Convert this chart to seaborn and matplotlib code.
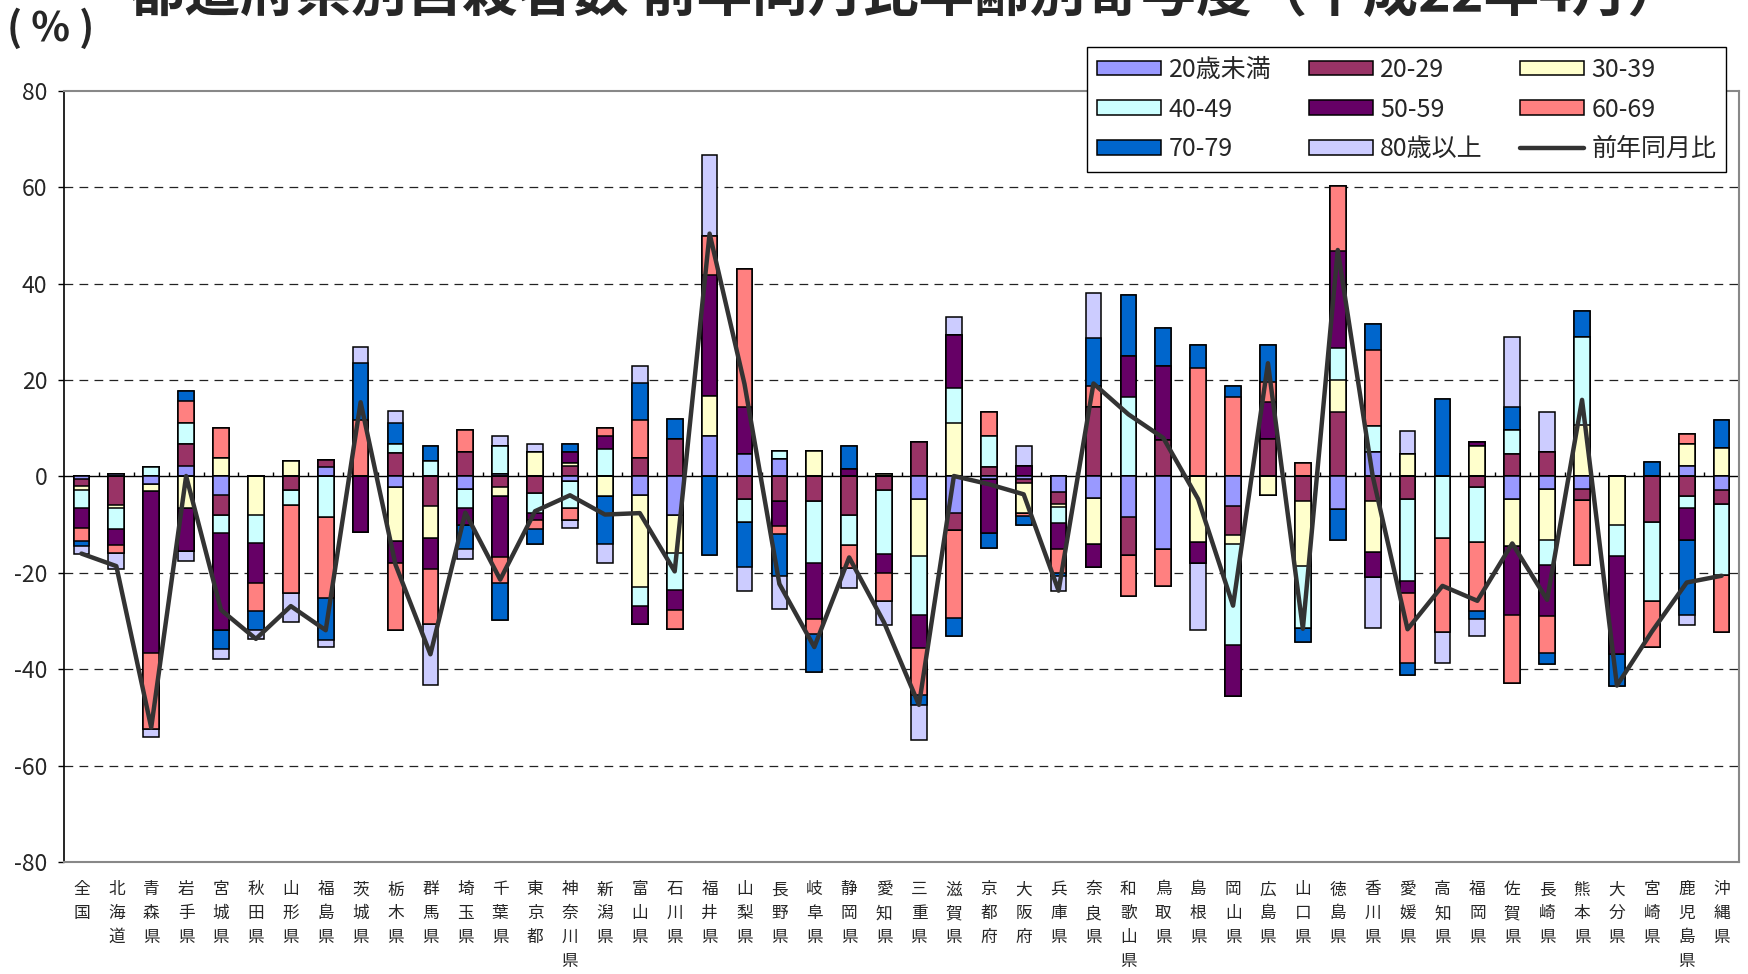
import numpy as np
import pandas as pd
import matplotlib
matplotlib.use("Agg")
import matplotlib.pyplot as plt
from matplotlib.patches import Patch
from matplotlib.lines import Line2D
import seaborn as sns

# ---------------- data ----------------
categories = ["全国", "北海道", "青森県", "岩手県", "宮城県", "秋田県", "山形県", "福島県",
              "茨城県", "栃木県", "群馬県", "埼玉県", "千葉県", "東京都", "神奈川県", "新潟県",
              "富山県", "石川県", "福井県", "山梨県", "長野県", "岐阜県", "静岡県", "愛知県",
              "三重県", "滋賀県", "京都府", "大阪府", "兵庫県", "奈良県", "和歌山県", "鳥取県",
              "島根県", "岡山県", "広島県", "山口県", "徳島県", "香川県", "愛媛県", "高知県",
              "福岡県", "佐賀県", "長崎県", "熊本県", "大分県", "宮崎県", "鹿児島県", "沖縄県"]

series_names = ["20歳未満", "20-29", "30-39", "40-49", "50-59", "60-69", "70-79", "80歳以上"]
line_name = "前年同月比"

u20 = [-0.6, 0.6, -1.5, 2.2, -3.8, 0, 0, 1.9, 0, -2.2, 0, -2.5, 0.6, 0, -1.0, 0,
       -3.8, -7.9, 8.4, 4.7, 3.6, 0, 0, 0, -4.7, -7.5, -0.6, -0.5, -3.2, -4.4, -8.4, -15.0,
       0, -6.2, 0, 0, -6.8, 5.1, 0, 0, 0, -4.7, -2.5, -2.5, 0, 0, 2.1, -2.9]
a20 = [-1.4, -5.9, 0, 4.6, -4.1, 0, -2.9, 1.6, 0, 4.9, -6.2, 5.1, -2.2, -3.4, 2.1, 0,
       3.8, 7.8, 0, -4.7, -5.0, -5.0, -7.9, -2.9, 7.2, -3.7, 1.9, -0.9, -2.5, 14.4, -7.9, 7.5,
       0, -6.0, 7.7, -5.0, 13.3, -5.0, -4.7, 0, -2.2, 4.7, 5.1, -2.4, 0, -9.5, -4.1, -2.9]
a30 = [-0.8, -0.6, -1.5, -6.6, 3.8, -7.9, 3.2, 0, 0, -11.2, -6.6, 0, -1.9, 5.1, 0.6, -4.1,
       -19.2, -8.0, 8.2, 0, 0, 5.2, 0, 0.6, -11.9, 11.2, 0, -6.1, -0.6, -9.7, 0, 0,
       -13.7, -1.9, -3.8, -13.5, 6.8, -10.6, 4.7, 0, 6.4, -9.7, -10.6, 10.6, -10.0, 0, 4.7, 5.9]
a40 = [-3.7, -4.4, 2.0, 4.4, -3.9, -6.0, -3.1, -8.4, 0, 1.9, 3.2, -4.0, 5.7, -4.2, -5.5, 5.6,
       -3.9, -7.7, 0, -4.8, 1.6, -13.0, -6.4, -13.1, -12.2, 7.2, 6.5, 0, -3.4, 0, 16.5, 0,
       0, -20.9, 0, -13.0, 6.6, 5.3, -17.0, -12.8, -11.4, 4.9, -5.3, 18.4, -6.6, -16.3, -2.4, -14.6]
a50 = [-4.1, -3.4, -33.6, -8.9, -20.0, -8.2, 0, 0, -11.5, -4.6, -6.5, -3.6, -12.7, -1.5, 2.4, 2.8,
       -3.7, -4.2, 25.3, 9.7, -5.3, -11.5, 1.5, -4.0, -6.7, 11.0, -11.1, 2.2, -5.3, -4.6, 8.5, 15.4,
       -4.3, -10.6, 7.7, 0, 20.0, -5.2, -2.4, 0, 0.8, -14.3, -10.6, 0, -20.2, 0, -6.6, 0]
a60 = [-2.8, -1.5, -15.8, 4.4, 6.3, -5.8, -18.1, -16.9, 11.8, -13.9, -11.3, 4.5, -5.3, -1.9, -2.5, 1.7,
       7.9, -3.9, 8.1, 28.6, -1.6, -3.2, -4.7, -5.8, -9.9, -18.1, 4.9, -0.7, -5.0, 4.4, -8.5, -7.8,
       22.6, 16.5, 4.2, 2.8, 13.5, 15.9, -14.7, -19.4, -14.3, -14.1, -7.7, -13.5, 0, -9.5, 2.1, -11.9]
a70 = [-1.0, 0, 0, 2.1, -3.9, -3.9, 0, -8.7, 11.7, 4.4, 3.2, -4.9, -7.6, -3.0, 1.6, -9.9,
       7.6, 4.2, -16.3, -9.3, -8.7, -7.9, 4.9, 0, -2.0, -3.7, -3.2, -1.8, -0.7, 9.9, 12.7, 7.9,
       4.6, 2.3, 7.7, -2.9, -6.4, 5.3, -2.4, 16.1, -1.6, 4.9, -2.3, 5.3, -6.6, 3.1, -15.6, 5.8]
a80 = [-1.6, -3.3, -1.7, -2.1, -2.1, -1.9, -6.0, -1.4, 3.4, 2.4, -12.7, -2.1, 2.0, 1.7, -1.6, -4.0,
       3.7, 0, 16.7, -5.0, -6.9, 0, -4.2, -5.1, -7.2, 3.7, 0, 4.1, -3.0, 9.3, 0, 0,
       -13.9, 0, 0, 0, 0, -10.7, 4.8, -6.6, -3.5, 14.4, 8.3, 0, 0, 0, -2.2, 0]
yoy = [-16.0, -18.6, -52.1, 0.1, -27.7, -33.7, -26.9, -31.9, 15.4, -18.3, -36.9, -7.5, -21.4, -7.2, -3.9, -7.9,
       -7.6, -19.7, 50.4, 19.2, -22.3, -35.4, -16.8, -30.3, -47.4, 0.1, -1.6, -3.7, -23.7, 19.3, 12.9, 8.0,
       -4.7, -26.8, 23.5, -31.6, 47.0, 0.1, -31.7, -22.7, -25.8, -13.9, -25.6, 15.9, -43.4, -32.2, -22.0, -20.6]

yticks = [80, 60, 40, 20, 0, -20, -40, -60, -80]
title = "都道府県別自殺者数 前年同月比年齢別寄与度（平成22年4月）"

colors = ["#9999FF", "#993366", "#FFFFCC", "#CCFFFF", "#660066", "#FF8080", "#0066CC", "#CCCCFF"]

# ---------------- build table ----------------
series = [u20, a20, a30, a40, a50, a60, a70, a80]
for s in series:
    assert len(s) == len(categories)
assert len(yoy) == len(categories)

vals = np.array(series, dtype=float)          # 8 x 48
pos_cum = np.cumsum(np.clip(vals, 0, None), axis=0)
neg_cum = np.cumsum(np.clip(vals, None, 0), axis=0)

df = pd.DataFrame({"cat": categories})
for k, name in enumerate(series_names):
    df[f"pos_{k}"] = pos_cum[k]
    df[f"neg_{k}"] = neg_cum[k]

# ---------------- style ----------------
sns.set_theme(style="white")
plt.rcParams["font.family"] = ["Noto Sans CJK JP", "DejaVu Sans"]
plt.rcParams["axes.unicode_minus"] = False

fig = plt.figure(figsize=(17.48, 9.74), dpi=100)
ax = fig.add_axes([0.0366, 0.115, 0.9583, 0.7916])

# stacked (diverging) bars: draw cumulative layers from outermost to innermost
for k in range(len(series_names) - 1, -1, -1):
    for sign in ("pos", "neg"):
        sns.barplot(data=df, x="cat", y=f"{sign}_{k}", order=categories, color=colors[k],
                    saturation=1, width=0.45, edgecolor="black", linewidth=1.1,
                    errorbar=None, ax=ax, zorder=3)

# line
sns.lineplot(x=np.arange(len(categories)), y=yoy, color="#333333", linewidth=3.2,
             ax=ax, zorder=5, sort=False)

# grid lines / zero line
for g in [60, 40, 20, -20, -40, -60]:
    ax.axhline(g, color="#222222", linewidth=0.9, linestyle=(0, (7, 5)), zorder=1)
ax.axhline(0, color="black", linewidth=1.0, zorder=2)
ax.vlines(np.arange(len(categories) - 1) + 0.5, 0, 1.0, color="black", linewidth=1.0, zorder=2)

ax.set_ylim(-80, 80)
ax.set_xlim(-0.5, len(categories) - 0.5)
ax.set_yticks(yticks)
ax.set_yticklabels([str(t) for t in yticks], fontsize=16.5)
ax.set_xticks(np.arange(len(categories)))
ax.set_xticklabels(["\n".join(c) for c in categories], fontsize=12, linespacing=1.52)
ax.tick_params(axis="x", length=0, pad=14)
ax.tick_params(axis="y", length=4, width=1, color="black", pad=8, direction="out", left=True)
ax.set_xlabel("")
ax.set_ylabel("")

for side in ("top", "right", "bottom"):
    ax.spines[side].set_color("#888888")
    ax.spines[side].set_linewidth(1.5)
ax.spines["left"].set_color("black")
ax.spines["left"].set_linewidth(1.2)

# legend (row-major reading order in 3 columns)
handles = [Patch(facecolor=c, edgecolor="black", linewidth=1.1) for c in colors]
handles.append(Line2D([0], [0], color="#333333", linewidth=3.2))
labels = series_names + [line_name]
order = [0, 3, 6, 1, 4, 7, 2, 5, 8]
leg = fig.legend([handles[i] for i in order], [labels[i] for i in order], ncol=3,
                 loc="upper left", bbox_to_anchor=(0.622, 0.952), borderaxespad=0,
                 fontsize=18, frameon=True, fancybox=False, edgecolor="black", framealpha=1,
                 handlelength=2.55, handleheight=0.52, handletextpad=0.3,
                 columnspacing=1.5, labelspacing=0.55, borderpad=0.4)
leg.get_frame().set_linewidth(1.0)

# title (cut off at the top, as in the reference) and unit
fig.text(0.518, 1.005, title, ha="center", va="center", fontsize=40, fontweight="bold")
fig.text(0.004, 0.970, "( % )", ha="left", va="center", fontsize=29, fontweight="bold")

fig.savefig("out.png", dpi=100)
